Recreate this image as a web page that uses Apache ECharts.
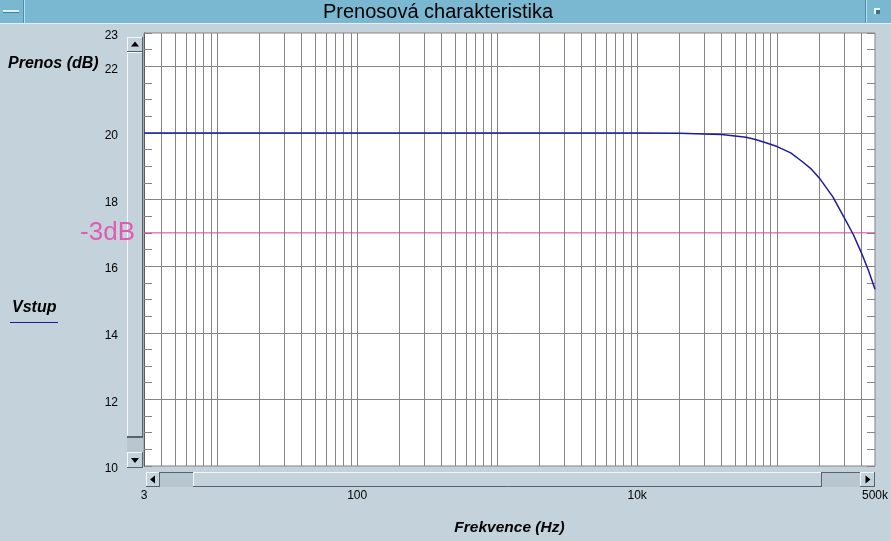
<!DOCTYPE html>
<html><head><meta charset="utf-8">
<script src="https://cdn.jsdelivr.net/npm/echarts@6/dist/echarts.min.js"></script>
<style>html,body{margin:0;padding:0;background:#c4d3db}#c{width:891px;height:541px}</style>
</head><body><div id="c"></div><script>
// ---- data ----
const freqHz = [3, 1000, 10000, 20000, 30000, 40000, 50000, 60000, 70000, 80000, 100000, 125000, 150000, 175000, 200000, 250000, 300000, 350000, 400000, 450000, 500000];
const gainDb = [20, 20, 20, 19.99, 19.97, 19.95, 19.91, 19.87, 19.80, 19.73, 19.59, 19.40, 19.15, 18.92, 18.65, 18.08, 17.47, 16.95, 16.40, 15.86, 15.31];
const seriesName = 'Vstup';
const xTickValues = [3, 100, 10000, 500000];
const xTickLabels = ['3', '100', '10k', '500k'];
const yLabelValues = [10, 12, 14, 16, 18, 20, 22, 23];
const hGridValues = [12, 14, 16, 18, 20, 22];
const refFreq = [3, 500000];
const refLevelDb = [17, 17];
const refLabel = '-3dB';
const titleText = 'Prenosová charakteristika';
const xName = 'Frekvence (Hz)';
const yName = 'Prenos (dB)';

// vertical grid lines at 1..9 x each decade
const vGridValues = [];
for (let d = 1; d <= 100000; d *= 10) {
  for (let m = 1; m <= 9; m++) { const v = m * d; if (v > 3 && v < 500000) vGridValues.push(v); }
}

const gridColor = '#858585';
const bg = '#c4d3db';
const light = '#f4f8fa';
const dark = '#56656d';
const FONT = '"Liberation Sans", Arial, sans-serif';

function bevel(x, y, w, h, raised) {
  const tl = raised ? light : dark, br = raised ? dark : light;
  return [
    {type: 'rect', shape: {x: x, y: y, width: w, height: h}, style: {fill: bg}},
    {type: 'line', shape: {x1: x, y1: y + 0.5, x2: x + w, y2: y + 0.5}, style: {stroke: tl, lineWidth: 1}},
    {type: 'line', shape: {x1: x + 0.5, y1: y, x2: x + 0.5, y2: y + h}, style: {stroke: tl, lineWidth: 1}},
    {type: 'line', shape: {x1: x, y1: y + h - 0.5, x2: x + w, y2: y + h - 0.5}, style: {stroke: br, lineWidth: 1}},
    {type: 'line', shape: {x1: x + w - 0.5, y1: y, x2: x + w - 0.5, y2: y + h}, style: {stroke: br, lineWidth: 1}}
  ];
}
function tri(cx, cy, dir) {
  let pts;
  if (dir === 'up') pts = [[cx - 4, cy + 2], [cx + 4, cy + 2], [cx, cy - 3]];
  else if (dir === 'down') pts = [[cx - 4, cy - 2], [cx + 4, cy - 2], [cx, cy + 3]];
  else if (dir === 'left') pts = [[cx + 2, cy - 4], [cx + 2, cy + 4], [cx - 3, cy]];
  else pts = [[cx - 2, cy - 4], [cx - 2, cy + 4], [cx + 3, cy]];
  return {type: 'polygon', shape: {points: pts}, style: {fill: '#000'}};
}

const graphics = [].concat(
  // title bar
  [{type: 'rect', shape: {x: 0, y: 0, width: 891, height: 24}, style: {fill: '#7ab8d2'}},
   {type: 'line', shape: {x1: 0, y1: 23.5, x2: 891, y2: 23.5}, style: {stroke: '#e6eef2', lineWidth: 1}},
   {type: 'line', shape: {x1: 23.5, y1: 0, x2: 23.5, y2: 23}, style: {stroke: '#4d8eab', lineWidth: 1}},
   {type: 'line', shape: {x1: 24.5, y1: 0, x2: 24.5, y2: 23}, style: {stroke: '#b9deee', lineWidth: 1}},
   {type: 'line', shape: {x1: 865.5, y1: 0, x2: 865.5, y2: 23}, style: {stroke: '#4d8eab', lineWidth: 1}},
   {type: 'line', shape: {x1: 866.5, y1: 0, x2: 866.5, y2: 23}, style: {stroke: '#b9deee', lineWidth: 1}},
   {type: 'rect', shape: {x: 3, y: 10, width: 16, height: 2}, style: {fill: '#dff2fb'}},
   {type: 'line', shape: {x1: 3, y1: 12.5, x2: 19, y2: 12.5}, style: {stroke: '#3f7f9c', lineWidth: 1}},
   {type: 'rect', shape: {x: 874, y: 8, width: 6, height: 6}, style: {fill: '#e8f4fa'}},
   {type: 'rect', shape: {x: 876, y: 10, width: 4, height: 4}, style: {fill: '#3d6f88'}}],
  // vertical scrollbar
  bevel(127, 52, 16, 385, true),
  [{type: 'rect', shape: {x: 127, y: 437, width: 16, height: 15}, style: {fill: '#b8c7cf'}},
   {type: 'line', shape: {x1: 127, y1: 437.5, x2: 143, y2: 437.5}, style: {stroke: dark, lineWidth: 1}}],
  bevel(127, 37, 16, 15, true), [tri(135, 44.5, 'up')],
  bevel(127, 452, 16, 16, true), [tri(135, 460, 'down')],
  // horizontal scrollbar
  [{type: 'rect', shape: {x: 146, y: 472, width: 729, height: 15}, style: {fill: '#b8c7cf'}},
   {type: 'line', shape: {x1: 146, y1: 472.5, x2: 875, y2: 472.5}, style: {stroke: dark, lineWidth: 1}}],
  bevel(193, 472, 629, 15, true),
  bevel(146, 472, 14, 15, true), [tri(153, 479.5, 'left')],
  bevel(860, 472, 15, 15, true), [tri(867.5, 479.5, 'right')],
  // y axis name
  [{type: 'text', x: 8, y: 64, style: {text: yName, font: 'italic bold 16px ' + FONT, fill: '#000', verticalAlign: 'middle'}}],
  // legend
  [{type: 'text', x: 12, y: 308, style: {text: seriesName, font: 'italic bold 16px ' + FONT, fill: '#000', verticalAlign: 'middle'}},
   {type: 'line', shape: {x1: 10, y1: 322.5, x2: 58, y2: 322.5}, style: {stroke: '#1a1aa0', lineWidth: 1}}]
);

function fmtX(v) {
  const r = Math.round(v);
  const i = xTickValues.indexOf(r);
  return i >= 0 ? xTickLabels[i] : '';
}
function fmtY(v) {
  const r = Math.round(v * 10) / 10;
  return yLabelValues.indexOf(r) >= 0 ? String(r) : '';
}

const chart = echarts.init(document.getElementById('c'));
chart.setOption({
  backgroundColor: bg,
  animation: false,
  textStyle: {fontFamily: FONT},
  title: {text: titleText, left: 438, top: 0, padding: 0, textAlign: 'center',
          textStyle: {fontSize: 20, fontWeight: 'normal', color: '#000', fontFamily: FONT, lineHeight: 24}},
  graphic: graphics,
  grid: {left: 144, right: 16, top: 33, bottom: 71, show: true, backgroundColor: '#ffffff',
         borderColor: gridColor, borderWidth: 1},
  xAxis: {type: 'log', logBase: 10, min: 3, max: 500000,
          name: xName, nameLocation: 'middle', nameGap: 54,
          nameTextStyle: {fontStyle: 'italic', fontWeight: 'bold', fontSize: 15.5, color: '#000'},
          axisLine: {show: false}, axisTick: {show: false}, splitLine: {show: false},
          axisLabel: {formatter: fmtX, margin: 24, fontSize: 12, color: '#000',
                      showMinLabel: true, showMaxLabel: true}},
  yAxis: [
    {type: 'value', min: 10, max: 23, interval: 0.5, position: 'left',
     axisLine: {show: true, lineStyle: {color: '#5c5c5c', width: 1}},
     axisTick: {show: true, inside: true, length: 8, lineStyle: {color: gridColor}},
     axisLabel: {formatter: fmtY, margin: 26, fontSize: 12, color: '#000', verticalAlign: 'top',
                 lineHeight: 6, showMinLabel: true, showMaxLabel: true},
     splitLine: {show: false}},
    {type: 'value', min: 10, max: 23, interval: 0.5, position: 'right',
     axisLine: {show: false},
     axisTick: {show: true, inside: true, length: 8, lineStyle: {color: gridColor}},
     axisLabel: {show: false}, splitLine: {show: false}}
  ],
  series: [
    {type: 'line', name: 'grid', data: [], z: 1, silent: true,
     markLine: {silent: true, symbol: 'none', z: 1, animation: false, label: {show: false},
                lineStyle: {color: gridColor, width: 1, type: 'solid'},
                data: vGridValues.map(v => ({xAxis: v})).concat(hGridValues.map(v => ({yAxis: v})))}},
    {type: 'line', name: 'ref', z: 2, silent: true, showSymbol: false, symbol: 'none',
     data: refFreq.map((f, i) => [f, refLevelDb[i]]),
     lineStyle: {color: '#d83fa5', width: 1},
     markLine: {silent: true, symbol: 'none', z: 4, animation: false,
                label: {show: true, position: 'start', formatter: refLabel, fontSize: 26,
                        color: '#e05cb3', distance: 9, fontFamily: FONT},
                lineStyle: {color: 'rgba(0,0,0,0)', width: 0},
                data: [{yAxis: refLevelDb[0]}]}},
    {type: 'line', name: seriesName, z: 3, showSymbol: false, symbol: 'none',
     data: freqHz.map((f, i) => [f, gainDb[i]]),
     lineStyle: {color: '#1c1c9e', width: 1.5}}
  ]
});
</script></body></html>
